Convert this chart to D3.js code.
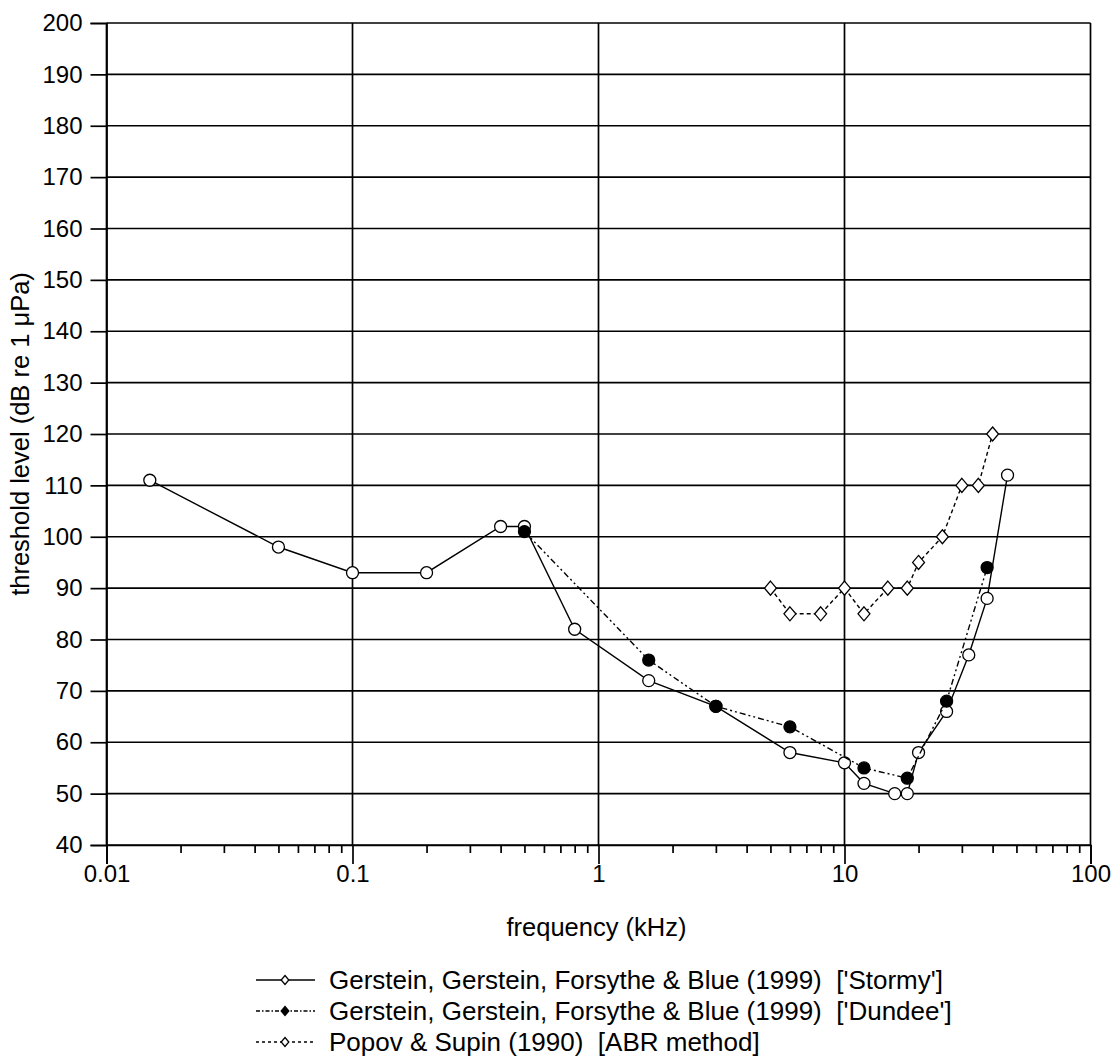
<!DOCTYPE html>
<html>
<head>
<meta charset="utf-8">
<script src="https://cdn.jsdelivr.net/npm/d3@7"></script>
<style>
  html, body { margin: 0; padding: 0; background: #fff; }
  svg { display: block; font-family: "Liberation Sans", Arial, sans-serif; }
  svg text { white-space: pre; }
</style>
</head>
<body>
<svg id="chart" width="1115" height="1056"></svg>
<script>
// Manatee audiogram: hearing thresholds vs. tone frequency

// Stormy (Gerstein et al. 1999)
const stormyFreq = [0.015, 0.05, 0.1, 0.2, 0.4, 0.5, 0.8, 1.6, 3, 6, 10, 12, 16, 18, 20, 26, 32, 38, 46];
const stormyDb   = [111, 98, 93, 93, 102, 102, 82, 72, 67, 58, 56, 52, 50, 50, 58, 66, 77, 88, 112];

// Dundee (Gerstein et al. 1999)
const dundeeFreq = [0.5, 1.6, 3, 6, 12, 18, 26, 38];
const dundeeDb   = [101, 76, 67, 63, 55, 53, 68, 94];

// Popov & Supin (1990), ABR method
const popovFreq = [5, 6, 8, 10, 12, 15, 18, 20, 25, 30, 35, 40];
const popovDb   = [90, 85, 85, 90, 85, 90, 90, 95, 100, 110, 110, 120];

const xTickLabels = ["0.01", "0.1", "1", "10", "100"];
const yTickValues = d3.range(40, 201, 10);

const legendLabels = [
  "Gerstein, Gerstein, Forsythe & Blue (1999)  ['Stormy']",
  "Gerstein, Gerstein, Forsythe & Blue (1999)  ['Dundee']",
  "Popov & Supin (1990)  [ABR method]"
];

const svg = d3.select("#chart");
const plotLeft = 106.5, plotRight = 1090.5, plotTop = 23, plotBottom = 845;

const x = d3.scaleLog().domain([0.01, 100]).range([plotLeft, plotRight]);
const y = d3.scaleLinear().domain([40, 200]).range([plotBottom, plotTop]);

const ink = "#000";
const tickFont = 24;
const titleFont = 25.5;
const legendFont = 26;
const fontFamily = "Liberation Sans, Arial, sans-serif";
const gridWidth = 1.7;

// grid
const grid = svg.append("g").attr("stroke", ink).attr("stroke-width", gridWidth);
grid.selectAll("line.h").data(yTickValues).join("line").attr("class", "h")
  .attr("x1", plotLeft).attr("x2", plotRight)
  .attr("y1", d => y(d)).attr("y2", d => y(d));
grid.selectAll("line.v").data(xTickLabels.map(Number)).join("line").attr("class", "v")
  .attr("x1", d => x(d)).attr("x2", d => x(d))
  .attr("y1", plotTop).attr("y2", plotBottom);

// y axis
const yAxis = d3.axisLeft(y).tickValues(yTickValues).tickSize(16).tickPadding(8)
  .tickFormat(d3.format("d"));
svg.append("g").attr("transform", `translate(${plotLeft},0)`).call(yAxis)
  .call(g => g.select(".domain").attr("stroke-width", gridWidth))
  .call(g => g.selectAll(".tick line").attr("stroke-width", gridWidth))
  .call(g => g.selectAll("text").attr("font-size", tickFont).attr("fill", ink)
    .attr("font-family", fontFamily));

// x axis: decades labelled, minor ticks in between
const minorTicks = [];
for (let e = -2; e < 2; e++) for (let m = 2; m <= 9; m++) minorTicks.push(m * Math.pow(10, e));
const xMajor = d3.axisBottom(x).tickValues(xTickLabels.map(Number)).tickSize(19).tickPadding(1)
  .tickFormat((d, i) => xTickLabels[i]);
svg.append("g").attr("transform", `translate(0,${plotBottom})`).call(xMajor)
  .call(g => g.select(".domain").attr("stroke-width", gridWidth))
  .call(g => g.selectAll(".tick line").attr("stroke-width", gridWidth))
  .call(g => g.selectAll("text").attr("font-size", tickFont).attr("fill", ink)
    .attr("font-family", fontFamily));
const xMinor = d3.axisBottom(x).tickValues(minorTicks).tickSize(8).tickFormat("");
svg.append("g").attr("transform", `translate(0,${plotBottom})`).call(xMinor)
  .call(g => g.select(".domain").remove())
  .call(g => g.selectAll(".tick line").attr("stroke-width", gridWidth));

// axis titles
svg.append("text").attr("x", (plotLeft + plotRight) / 2 - 2).attr("y", 936)
  .attr("text-anchor", "middle").attr("font-size", titleFont).attr("fill", ink)
  .text("frequency (kHz)");
svg.append("text")
  .attr("transform", `translate(29,${(plotTop + plotBottom) / 2}) rotate(-90)`)
  .attr("text-anchor", "middle").attr("font-size", titleFont).attr("fill", ink)
  .text("threshold level (dB re 1 \u03BCPa)");

// series
const diamond = s => `M0,${-s}L${s * 0.85},0L0,${s}L${-s * 0.85},0Z`;
const series = [
  { f: stormyFreq, v: stormyDb, dash: null, marker: "openCircle" },
  { f: dundeeFreq, v: dundeeDb, dash: "6,3,2,3,2,3", marker: "filledCircle" },
  { f: popovFreq, v: popovDb, dash: "4,3", marker: "openDiamond" }
];
const line = d3.line().x(d => x(d[0])).y(d => y(d[1]));

series.forEach(s => {
  const pts = s.f.map((f, i) => [f, s.v[i]]);
  const g = svg.append("g");
  g.append("path").datum(pts).attr("d", line)
    .attr("fill", "none").attr("stroke", ink).attr("stroke-width", 1.4)
    .attr("stroke-dasharray", s.dash);
  if (s.marker === "openDiamond") {
    g.selectAll("path.m").data(pts).join("path").attr("class", "m")
      .attr("transform", d => `translate(${x(d[0])},${y(d[1])})`)
      .attr("d", diamond(7)).attr("fill", "#fff").attr("stroke", ink).attr("stroke-width", 1.3);
  } else {
    g.selectAll("circle").data(pts).join("circle")
      .attr("cx", d => x(d[0])).attr("cy", d => y(d[1])).attr("r", 6)
      .attr("fill", s.marker === "filledCircle" ? ink : "#fff")
      .attr("stroke", ink).attr("stroke-width", 1.3);
  }
});

// legend
const legendStyles = [
  { dash: null, fill: "#fff" },
  { dash: "4,2,1.5,2", fill: ink },
  { dash: "3,3", fill: "#fff" }
];
const lg = svg.append("g");
legendLabels.forEach((label, i) => {
  const ly = 980 + i * 31;
  lg.append("line").attr("x1", 256).attr("x2", 315).attr("y1", ly).attr("y2", ly)
    .attr("stroke", ink).attr("stroke-width", 1.4).attr("stroke-dasharray", legendStyles[i].dash);
  lg.append("path").attr("transform", `translate(285,${ly})`).attr("d", diamond(4.5))
    .attr("fill", legendStyles[i].fill).attr("stroke", ink).attr("stroke-width", 1.3);
  lg.append("text").attr("x", 329).attr("y", ly + 8.5).attr("font-size", legendFont).attr("fill", ink)
    .text(label);
});
</script>
</body>
</html>
